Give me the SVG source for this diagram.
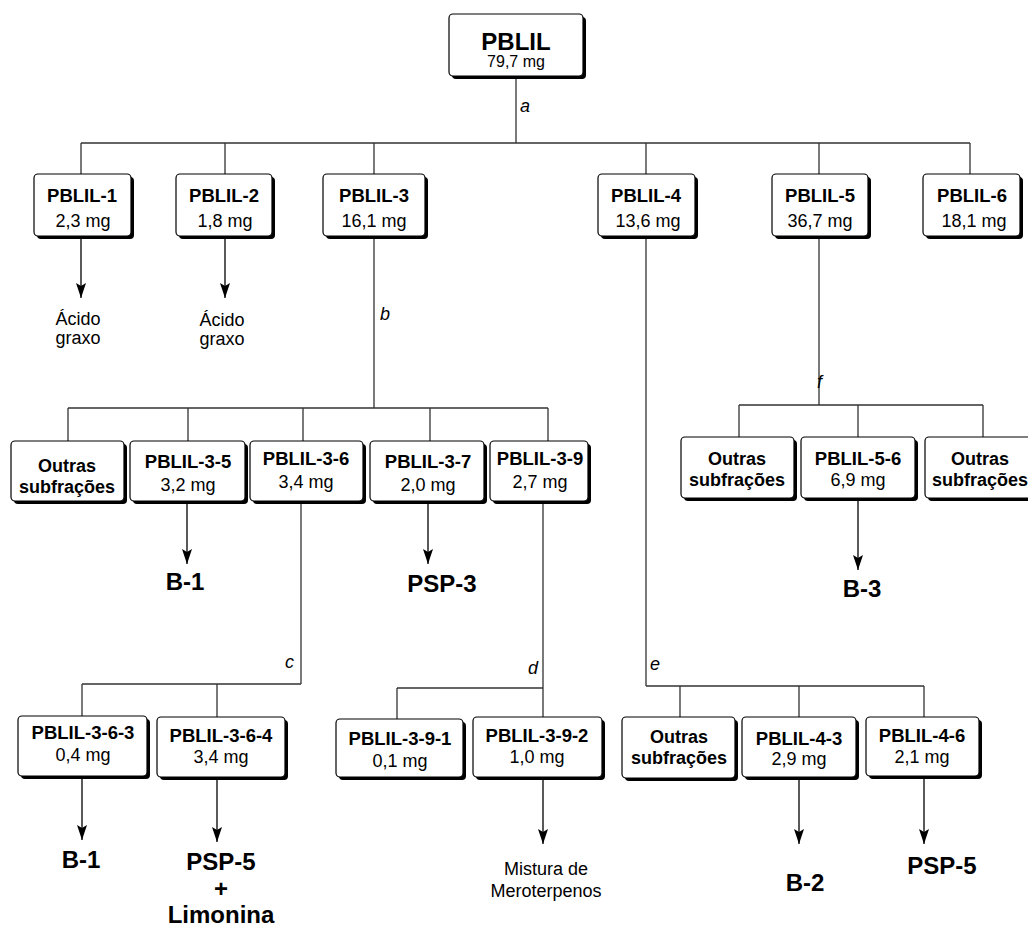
<svg xmlns="http://www.w3.org/2000/svg" width="1028" height="926" viewBox="0 0 1028 926">
<style>
.sh{fill:#000}
.bx{fill:#fff;stroke:#000;stroke-width:1.2}
.t{font-family:"Liberation Sans",Arial,sans-serif;text-anchor:middle;fill:#000}
.b{font-weight:bold;font-size:18.5px}
.r{font-size:18px}
.big{font-weight:bold;font-size:24px}
.it{font-family:"Liberation Sans",Arial,sans-serif;font-style:italic;font-size:18px;fill:#000}
.ln{stroke:#333;stroke-width:1.3;fill:none}
.ar{stroke:#000;stroke-width:1.3;fill:none;marker-end:url(#ah)}
</style>
<defs>
<marker id="ah" markerUnits="userSpaceOnUse" markerWidth="10" markerHeight="16" refX="5" refY="15" orient="0">
<path d="M0,0 L5,3 L10,0 L5,15 Z" fill="#000"/>
</marker>
</defs>
<rect width="1028" height="926" fill="#fff"/>
<g id="connectors">
<path class="ln" d="M516,76 V143 M81,143 H970 M81,143 V174 M225,143 V174 M374,143 V174 M646,143 V174 M819,143 V174 M970,143 V174"/>
<path class="ar" d="M81,236 V298"/>
<path class="ar" d="M225,236 V298"/>
<path class="ln" d="M374,236 V408 M68,408 H548 M68,408 V441 M188,408 V441 M303,408 V441 M430,408 V441 M548,408 V441"/>
<path class="ar" d="M187,501 V564"/>
<path class="ar" d="M428,501 V564"/>
<path class="ln" d="M301,501 V684 M82,684 H301 M82,684 V716 M217,684 V717"/>
<path class="ln" d="M543,501 V717 M397,688 H543 M397,688 V719"/>
<path class="ln" d="M819,236 V405 M739,405 H983 M739,405 V437 M858,405 V437 M983,405 V437"/>
<path class="ar" d="M858,498 V570"/>
<path class="ln" d="M646,236 V686 M646,686 H924 M680,686 V717 M799,686 V717 M924,686 V717"/>
<path class="ar" d="M82,776 V840"/>
<path class="ar" d="M217,777 V842"/>
<path class="ar" d="M543,777 V844"/>
<path class="ar" d="M799,777 V844"/>
<path class="ar" d="M924,776 V844"/>
<text class="it" x="520" y="112">a</text>
<text class="it" x="380" y="320">b</text>
<text class="it" x="285" y="668">c</text>
<text class="it" x="528" y="674">d</text>
<text class="it" x="650" y="670">e</text>
<text class="it" x="817" y="388">f</text>
</g>
<g id="n-pblil">
<rect class="sh" x="452" y="17" width="134" height="62" rx="4"/>
<rect class="bx" x="449" y="14" width="134" height="62" rx="4"/>
<text class="t" x="516" y="50" style="font-weight:bold;font-size:24px">PBLIL</text>
<text class="t" x="516" y="67" style="font-size:16px">79,7 mg</text>
</g>
<g id="n-pblil-1">
<rect class="sh" x="37" y="177" width="97" height="62" rx="4"/>
<rect class="bx" x="34" y="174" width="97" height="62" rx="4"/>
<text class="t b" x="82" y="202">PBLIL-1</text>
<text class="t r" x="83" y="227">2,3 mg</text>
</g>
<g id="n-pblil-2">
<rect class="sh" x="179" y="177" width="96" height="62" rx="4"/>
<rect class="bx" x="176" y="174" width="96" height="62" rx="4"/>
<text class="t b" x="224" y="202">PBLIL-2</text>
<text class="t r" x="225" y="227">1,8 mg</text>
</g>
<g id="n-pblil-3">
<rect class="sh" x="326" y="177" width="102" height="62" rx="4"/>
<rect class="bx" x="323" y="174" width="102" height="62" rx="4"/>
<text class="t b" x="374" y="202">PBLIL-3</text>
<text class="t r" x="374" y="227">16,1 mg</text>
</g>
<g id="n-pblil-4">
<rect class="sh" x="601" y="177" width="97" height="62" rx="4"/>
<rect class="bx" x="598" y="174" width="97" height="62" rx="4"/>
<text class="t b" x="646" y="202">PBLIL-4</text>
<text class="t r" x="648" y="227">13,6 mg</text>
</g>
<g id="n-pblil-5">
<rect class="sh" x="775" y="177" width="96" height="62" rx="4"/>
<rect class="bx" x="772" y="174" width="96" height="62" rx="4"/>
<text class="t b" x="820" y="202">PBLIL-5</text>
<text class="t r" x="820" y="227">36,7 mg</text>
</g>
<g id="n-pblil-6">
<rect class="sh" x="926" y="177" width="97" height="62" rx="4"/>
<rect class="bx" x="923" y="174" width="97" height="62" rx="4"/>
<text class="t b" x="972" y="202">PBLIL-6</text>
<text class="t r" x="974" y="227">18,1 mg</text>
</g>
<g id="r-acido-1"><text class="t r" x="78" y="325">Ácido</text><text class="t r" x="78" y="344">graxo</text></g>
<g id="r-acido-2"><text class="t r" x="222" y="326">Ácido</text><text class="t r" x="222" y="345">graxo</text></g>
<g id="n-outras-3">
<rect class="sh" x="14" y="444" width="113" height="60" rx="4"/>
<rect class="bx" x="11" y="441" width="113" height="60" rx="4"/>
<text class="t b" x="67" y="472" style="font-size:18px">Outras</text>
<text class="t b" x="67" y="493" style="font-size:18px">subfrações</text>
</g>
<g id="n-pblil-3-5">
<rect class="sh" x="133" y="444" width="115" height="60" rx="4"/>
<rect class="bx" x="130" y="441" width="115" height="60" rx="4"/>
<text class="t b" x="188" y="468">PBLIL-3-5</text>
<text class="t r" x="188" y="491">3,2 mg</text>
</g>
<g id="n-pblil-3-6">
<rect class="sh" x="253" y="444" width="113" height="60" rx="4"/>
<rect class="bx" x="250" y="441" width="113" height="60" rx="4"/>
<text class="t b" x="306" y="465">PBLIL-3-6</text>
<text class="t r" x="306" y="488">3,4 mg</text>
</g>
<g id="n-pblil-3-7">
<rect class="sh" x="373" y="444" width="114" height="60" rx="4"/>
<rect class="bx" x="370" y="441" width="114" height="60" rx="4"/>
<text class="t b" x="428" y="468">PBLIL-3-7</text>
<text class="t r" x="428" y="491">2,0 mg</text>
</g>
<g id="n-pblil-3-9">
<rect class="sh" x="493" y="444" width="98" height="60" rx="4"/>
<rect class="bx" x="490" y="441" width="98" height="60" rx="4"/>
<text class="t b" x="540" y="465">PBLIL-3-9</text>
<text class="t r" x="540" y="488">2,7 mg</text>
</g>
<g id="r-b1-a"><text class="t big" x="185" y="590">B-1</text></g>
<g id="r-psp3"><text class="t big" x="442" y="592">PSP-3</text></g>
<g id="n-outras-5a">
<rect class="sh" x="684" y="440" width="113" height="61" rx="4"/>
<rect class="bx" x="681" y="437" width="113" height="61" rx="4"/>
<text class="t b" x="737" y="465" style="font-size:18px">Outras</text>
<text class="t b" x="737" y="486" style="font-size:18px">subfrações</text>
</g>
<g id="n-pblil-5-6">
<rect class="sh" x="804" y="440" width="114" height="61" rx="4"/>
<rect class="bx" x="801" y="437" width="114" height="61" rx="4"/>
<text class="t b" x="858" y="465">PBLIL-5-6</text>
<text class="t r" x="858" y="486">6,9 mg</text>
</g>
<g id="n-outras-5b">
<rect class="sh" x="928" y="440" width="113" height="61" rx="4"/>
<rect class="bx" x="925" y="437" width="113" height="61" rx="4"/>
<text class="t b" x="980" y="465" style="font-size:18px">Outras</text>
<text class="t b" x="980" y="486" style="font-size:18px">subfrações</text>
</g>
<g id="r-b3"><text class="t big" x="862" y="597">B-3</text></g>
<g id="n-pblil-3-6-3">
<rect class="sh" x="21" y="719" width="129" height="60" rx="4"/>
<rect class="bx" x="18" y="716" width="129" height="60" rx="4"/>
<text class="t b" x="83" y="739">PBLIL-3-6-3</text>
<text class="t r" x="83" y="761">0,4 mg</text>
</g>
<g id="n-pblil-3-6-4">
<rect class="sh" x="160" y="720" width="128" height="60" rx="4"/>
<rect class="bx" x="157" y="717" width="128" height="60" rx="4"/>
<text class="t b" x="221" y="742">PBLIL-3-6-4</text>
<text class="t r" x="221" y="763">3,4 mg</text>
</g>
<g id="n-pblil-3-9-1">
<rect class="sh" x="339" y="722" width="127" height="58" rx="4"/>
<rect class="bx" x="336" y="719" width="127" height="58" rx="4"/>
<text class="t b" x="400" y="745">PBLIL-3-9-1</text>
<text class="t r" x="400" y="767">0,1 mg</text>
</g>
<g id="n-pblil-3-9-2">
<rect class="sh" x="476" y="720" width="129" height="60" rx="4"/>
<rect class="bx" x="473" y="717" width="129" height="60" rx="4"/>
<text class="t b" x="537" y="742">PBLIL-3-9-2</text>
<text class="t r" x="537" y="763">1,0 mg</text>
</g>
<g id="n-outras-4">
<rect class="sh" x="625" y="720" width="113" height="61" rx="4"/>
<rect class="bx" x="622" y="717" width="113" height="61" rx="4"/>
<text class="t b" x="679" y="743" style="font-size:18px">Outras</text>
<text class="t b" x="679" y="764" style="font-size:18px">subfrações</text>
</g>
<g id="n-pblil-4-3">
<rect class="sh" x="745" y="720" width="114" height="60" rx="4"/>
<rect class="bx" x="742" y="717" width="114" height="60" rx="4"/>
<text class="t b" x="799" y="745">PBLIL-4-3</text>
<text class="t r" x="799" y="765">2,9 mg</text>
</g>
<g id="n-pblil-4-6">
<rect class="sh" x="869" y="720" width="113" height="59" rx="4"/>
<rect class="bx" x="866" y="717" width="113" height="59" rx="4"/>
<text class="t b" x="922" y="742">PBLIL-4-6</text>
<text class="t r" x="922" y="763">2,1 mg</text>
</g>
<g id="r-b1-b"><text class="t big" x="81" y="868">B-1</text></g>
<g id="r-psp5-lim"><text class="t big" x="221" y="870">PSP-5</text><text class="t big" x="221" y="897">+</text><text class="t big" x="221" y="923">Limonina</text></g>
<g id="r-mistura"><text class="t r" x="546" y="875">Mistura de</text><text class="t r" x="546" y="897">Meroterpenos</text></g>
<g id="r-b2"><text class="t big" x="805" y="891">B-2</text></g>
<g id="r-psp5"><text class="t big" x="942" y="874">PSP-5</text></g>
</svg>
